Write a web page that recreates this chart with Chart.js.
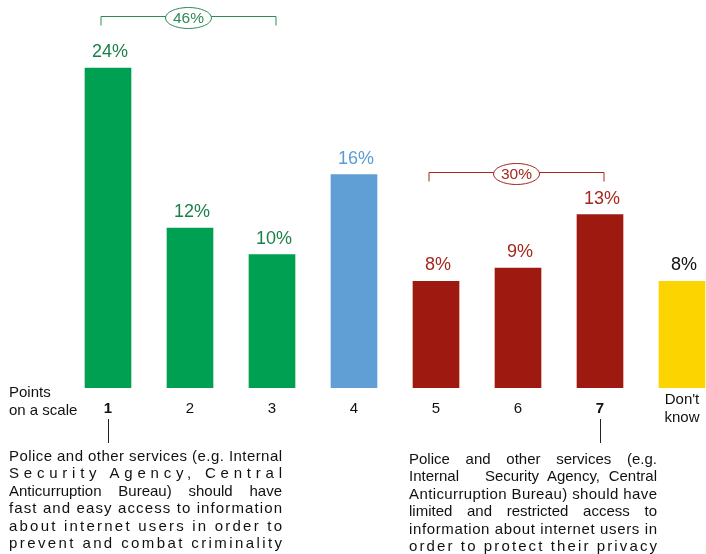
<!DOCTYPE html>
<html>
<head>
<meta charset="utf-8">
<script src="https://cdn.jsdelivr.net/npm/chart.js@4.4.1/dist/chart.umd.min.js"></script>
<style>
  html, body { margin: 0; padding: 0; background: #fff; }
  #wrap { position: relative; width: 706px; height: 554px; overflow: hidden;
          font-family: "Liberation Sans", Arial, sans-serif; color: #111; }
  canvas { position: absolute; left: 0; top: 0; }
  .scale-note { position: absolute; left: 9px; top: 383px; font-size: 15px; line-height: 18px; }
  .note { position: absolute; font-size: 15px; line-height: 17.4px; }
  .note div { text-align: justify; text-align-last: justify; white-space: nowrap; }
  .note div.fit { text-align: left; text-align-last: left; }
  #left-note { left: 9px; top: 447px; width: 273px; }
  #right-note { left: 409px; top: 450px; width: 248px; }
  #right-note div.plain { text-align-last: left; }
</style>
</head>
<body>
<div id="wrap">
  <canvas id="chart" width="740" height="460"></canvas>
  <div class="scale-note">Points<br>on a scale</div>
  <div class="note" id="left-note">
    <div class="fit">Police and other services (e.g. Internal</div>
    <div class="fit">Security Agency, Central</div>
    <div>Anticurruption Bureau) should have</div>
    <div class="fit">fast and easy access to information</div>
    <div class="fit">about internet users in order to</div>
    <div class="fit">prevent and combat criminality</div>
  </div>
  <div class="note" id="right-note">
    <div>Police and other services (e.g.</div>
    <div>Internal&nbsp;&nbsp; Security Agency, Central</div>
    <div class="fit">Anticurruption Bureau) should have</div>
    <div>limited and restricted access to</div>
    <div class="fit">information about internet users in</div>
    <div class="fit">order to protect their privacy</div>
  </div>
</div>
<script>
const categories = ['1', '2', '3', '4', '5', '6', '7', ["Don't", 'know']];
const shares = [24, 12, 10, 16, 8, 9, 13, 8];
const barColors = ['#00a052', '#00a052', '#00a052', '#5f9fd5', '#9e1a10', '#9e1a10', '#9e1a10', '#fcd500'];
const labelColors = ['#1b7f48', '#1b7f48', '#1b7f48', '#5b9bd5', '#a3281c', '#a3281c', '#a3281c', '#111111'];

// grouped totals shown in the ovals
const groupTotals = [46, 30];
const groupRanges = [[0, 2], [4, 6]];
const groupColors = ['#2e8b57', '#a3281c'];
const groupLift = [52, 43];

const boldTicks = [0, 6];
const pointerTicks = [0, 6];

const FONT = '"Liberation Sans", Arial, sans-serif';

// spread letters so each line fills the paragraph width
document.querySelectorAll('.note div.fit').forEach(line => {
    const width = line.parentElement.clientWidth;
    const probe = document.createElement('span');
    probe.textContent = line.textContent;
    line.textContent = '';
    line.appendChild(probe);
    const natural = probe.getBoundingClientRect().width;
    const n = probe.textContent.length - 1;
    if (n > 0) line.style.letterSpacing = ((width - natural) / n) + 'px';
});

const annotations = {
    id: 'annotations',
    afterDatasetsDraw(chart) {
        const ctx = chart.ctx;
        const x = chart.scales.x;
        const bars = chart.getDatasetMeta(0).data;
        ctx.save();

        // value labels
        ctx.font = '18px ' + FONT;
        ctx.textAlign = 'center';
        ctx.textBaseline = 'middle';
        bars.forEach((bar, i) => {
            ctx.fillStyle = labelColors[i];
            ctx.fillText(shares[i] + '%', bar.x + 2, bar.y - 16);
        });

        // brackets with oval totals
        groupRanges.forEach((range, g) => {
            const x1 = x.getPixelForValue(range[0]) - 7;
            const x2 = x.getPixelForValue(range[1]) + 4;
            let top = Infinity;
            for (let i = range[0]; i <= range[1]; i++) top = Math.min(top, bars[i].y);
            const ly = Math.round(top - groupLift[g]) + 0.5;
            const cx = (x1 + x2) / 2;
            ctx.strokeStyle = groupColors[g];
            ctx.lineWidth = 1;
            ctx.beginPath();
            ctx.moveTo(x1, ly + 9);
            ctx.lineTo(x1, ly);
            ctx.lineTo(x2, ly);
            ctx.lineTo(x2, ly + 9);
            ctx.stroke();
            ctx.beginPath();
            ctx.ellipse(cx, ly + 1.5, 23, 10.5, 0, 0, Math.PI * 2);
            ctx.fillStyle = '#fff';
            ctx.fill();
            ctx.stroke();
            ctx.fillStyle = groupColors[g];
            ctx.font = '15.5px ' + FONT;
            ctx.fillText(groupTotals[g] + '%', cx, ly + 2);
        });

        // pointer lines under scale ends
        ctx.strokeStyle = '#222';
        pointerTicks.forEach(i => {
            const px = Math.round(x.getPixelForValue(i)) + 0.5;
            ctx.beginPath();
            ctx.moveTo(px, chart.chartArea.bottom + 31);
            ctx.lineTo(px, chart.chartArea.bottom + 55);
            ctx.stroke();
        });
        ctx.restore();
    }
};

new Chart(document.getElementById('chart'), {
    type: 'bar',
    data: {
        labels: categories,
        datasets: [{
            data: shares,
            backgroundColor: barColors,
            borderWidth: 0,
            barThickness: 46
        }]
    },
    options: {
        responsive: false,
        animation: false,
        devicePixelRatio: 1,
        layout: { padding: { left: 67, right: 17, top: 0, bottom: 30 } },
        plugins: { legend: { display: false }, tooltip: { enabled: false } },
        scales: {
            x: {
                grid: { display: false },
                border: { display: false },
                afterFit: s => { s.height = 42; },
                ticks: {
                    color: '#111',
                    padding: 4,
                    crossAlign: 'center',
                    maxRotation: 0,
                    autoSkip: false,
                    font: c => ({ family: FONT, size: 15, weight: boldTicks.includes(c.index) ? 'bold' : 'normal' })
                }
            },
            y: {
                display: false,
                min: 0,
                max: 29.1
            }
        }
    },
    plugins: [annotations]
});
</script>
</body>
</html>
